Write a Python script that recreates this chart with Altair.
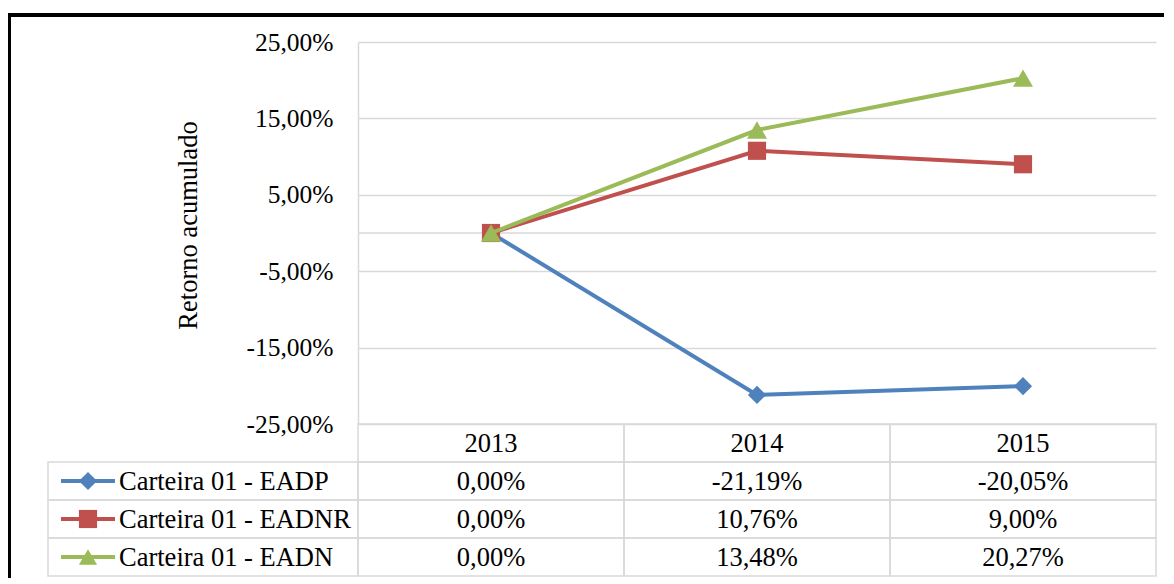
import altair as alt
import pandas as pd

# ---------------- data ----------------
years = ["2013", "2014", "2015"]
series = ["Carteira 01 - EADP", "Carteira 01 - EADNR", "Carteira 01 - EADN"]
eadp = [0.00, -21.19, -20.05]
eadnr = [0.00, 10.76, 9.00]
eadn = [0.00, 13.48, 20.27]
y_ticks = [-25, -15, -5, 5, 15, 25]
header_key = "Ano"
colors = ["#4F81BD", "#C0504D", "#9BBB59"]
shapes = ["diamond", "square", "triangle-up"]

values_by_series = [eadp, eadnr, eadn]
row_keys = [header_key] + series


def fmt(v):
    s = f"{abs(v):.2f}".replace(".", ",") + "%"
    return ("-" if v < 0 else "") + s


long_df = pd.DataFrame(
    [
        {"serie": s, "linha": s, "ano": y, "valor": v, "texto": fmt(v)}
        for s, vals in zip(series, values_by_series)
        for y, v in zip(years, vals)
    ]
)
header_df = pd.DataFrame({"ano": years, "linha": header_key, "texto": years})
cells_df = pd.DataFrame([{"ano": y, "linha": r} for r in row_keys for y in years])
legend_df = pd.DataFrame({"serie": series, "linha": series})
zero_df = pd.DataFrame({"valor": [0.0]})
frame_df = pd.DataFrame({"k": [0]})

# ---------------- layout / style ----------------
FONT = "Liberation Serif"
W, H = 798, 382
ROW_H = 38
TABLE_H = ROW_H * len(row_keys)
GRID = "#D9D9D9"

x_band = alt.Scale(type="band", domain=years, paddingInner=0, paddingOuter=0)
x_center = alt.X("ano:O", scale=x_band, axis=None, bandPosition=0.5)
x_cell = alt.X("ano:O", scale=x_band, axis=None)

y_scale = alt.Scale(domain=[-25, 25], nice=False, zero=False)
y_axis = alt.Axis(
    values=y_ticks,
    title="Retorno acumulado",
    labelExpr="(datum.value < 0 ? '-' : '') + replace(format(abs(datum.value), '.2f'), '.', ',') + '%'",
    grid=True,
    gridColor=GRID,
    gridWidth=1.5,
    domainColor=GRID,
    domainWidth=1.5,
    ticks=False,
    labelPadding=25,
    labelFont=FONT,
    labelFontSize=25.5,
    labelColor="black",
    titleFont=FONT,
    titleFontSize=26.5,
    titleFontWeight="normal",
    titleColor="black",
    titleX=-170,
    titleY=183,
    titleAngle=270,
    titleAlign="center",
    titleBaseline="middle",
)
y_val = alt.Y("valor:Q", scale=y_scale, axis=y_axis)

color_enc = alt.Color("serie:N", scale=alt.Scale(domain=series, range=colors), legend=None)
shape_enc = alt.Shape("serie:N", scale=alt.Scale(domain=series, range=shapes), legend=None)

# ---------------- line chart part ----------------
zero_rule = alt.Chart(zero_df).mark_rule(color=GRID, strokeWidth=1.5).encode(y=y_val)

top_layers = [zero_rule]
for s, c, sh in zip(series, colors, shapes):
    d = long_df[long_df["serie"] == s]
    top_layers.append(
        alt.Chart(d).mark_line(color=c, strokeWidth=4).encode(x=x_center, y=y_val)
    )
    top_layers.append(
        alt.Chart(d)
        .mark_point(filled=True, opacity=1, color=c, shape=sh, size=330 if sh != "triangle-up" else 400)
        .encode(x=x_center, y=y_val)
    )
top = alt.layer(*top_layers)

# ---------------- data table part ----------------
y_rows = alt.Scale(type="band", domain=row_keys, range=[H, H + TABLE_H], paddingInner=0, paddingOuter=0)
y_row_cell = alt.Y("linha:N", scale=y_rows, axis=None)
y_row_mid = alt.Y("linha:N", scale=y_rows, axis=None, bandPosition=0.5)

cells = alt.Chart(cells_df).mark_rect(fillOpacity=0, stroke=GRID, strokeWidth=1.5).encode(
    x=x_cell, y=y_row_cell
)
legend_cells = alt.Chart(legend_df).mark_rect(fillOpacity=0, stroke=GRID, strokeWidth=1.5).encode(
    x=alt.value(-310), x2=alt.value(0), y=y_row_cell
)
text_style = dict(font=FONT, fontSize=26.5, color="black", baseline="middle")
header_text = alt.Chart(header_df).mark_text(align="center", dy=1, **text_style).encode(
    x=x_center, y=y_row_mid, text="texto:N"
)
value_text = alt.Chart(long_df).mark_text(align="center", dy=1, **text_style).encode(
    x=x_center, y=y_row_mid, text="texto:N"
)
legend_lines = alt.Chart(legend_df).mark_rule(strokeWidth=4).encode(
    x=alt.value(-297), x2=alt.value(-243), y=y_row_mid, color=color_enc
)
legend_pts = alt.Chart(legend_df).mark_point(filled=True, opacity=1, size=330).encode(
    x=alt.value(-270), y=y_row_mid, color=color_enc, shape=shape_enc
)
legend_text = alt.Chart(legend_df).mark_text(align="left", dy=1, **text_style).encode(
    x=alt.value(-239), y=y_row_mid, text="serie:N"
)
frame = alt.Chart(frame_df).mark_rect(fillOpacity=0, stroke="black", strokeWidth=4).encode(
    x=alt.value(-349), x2=alt.value(1600), y=alt.value(-27), y2=alt.value(1000)
)

table = alt.layer(cells, legend_cells, header_text, value_text, legend_lines, legend_pts, legend_text, frame)

chart = (
    alt.layer(top, table)
    .resolve_scale(y="independent")
    .properties(
        width=W,
        height=H,
        autosize=alt.AutoSizeParams(type="none"),
        padding={"left": 350, "top": 34, "right": 8, "bottom": 154},
        background="white",
    )
    .configure_view(stroke="transparent")
)

chart.save("out.html", embed_options={"renderer": "svg", "actions": False})
